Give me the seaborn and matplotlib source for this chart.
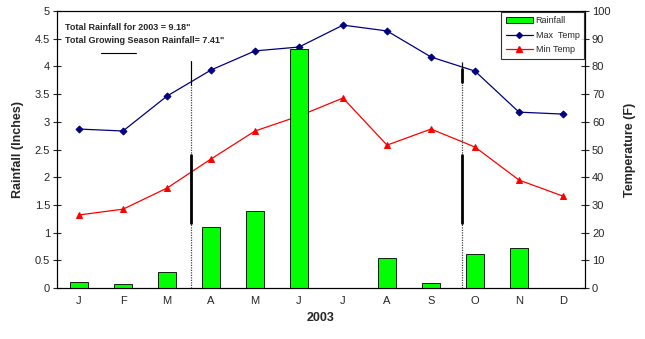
import numpy as np
import pandas as pd
import matplotlib
matplotlib.use('Agg')
import matplotlib.pyplot as plt
import seaborn as sns

meses = ['J', 'F', 'M', 'A', 'M', 'J', 'J', 'A', 'S', 'O', 'N', 'D']
lluvia = [0.11, 0.08, 0.29, 1.1, 1.39, 4.31, 0.0, 0.54, 0.1, 0.61, 0.72, 0.0]
temp_max = [57.4, 56.7, 69.3, 78.7, 85.6, 87.0, 94.9, 92.8, 83.4, 78.3, 63.5, 62.8]
temp_min = [26.4, 28.5, 36.1, 46.6, 56.7, 62.1, 68.6, 51.6, 57.4, 50.9, 39.0, 33.2]
# inicio y fin de la temporada de cultivo (posicion en el eje de meses)
temporada = [2.55, 8.7]

sns.set_style('white')
plt.rcParams['font.family'] = ['Liberation Sans', 'DejaVu Sans']

df = pd.DataFrame({'pos': np.arange(12), 'mes': meses, 'Lluvia': lluvia,
                   'Max': temp_max, 'Min': temp_min})

fig = plt.figure(figsize=(6.45, 3.39), dpi=100)
ax = fig.add_axes([0.0884, 0.150, 0.8186, 0.8176])
ax2 = ax.twinx()

sns.barplot(x='pos', y='Lluvia', data=df, ax=ax, color='#00FF00', width=0.41,
            edgecolor='black', linewidth=0.6, saturation=1, native_scale=True)
sns.lineplot(x='pos', y='Max', data=df, ax=ax2, color='#000080', marker='D',
             markersize=3.5, markeredgecolor='#000080', linewidth=0.9)
sns.lineplot(x='pos', y='Min', data=df, ax=ax2, color='#FF0000', marker='^',
             markersize=4.5, markeredgecolor='#FF0000', linewidth=0.9)

ax.set_xlim(-0.5, 11.5)
ax.set_ylim(0, 5)
ax2.set_ylim(0, 100)
ax.set_yticks(np.arange(0, 5.01, 0.5))
ax.set_yticklabels(['0', '0.5', '1', '1.5', '2', '2.5', '3', '3.5', '4', '4.5', '5'])
ax2.set_yticks(np.arange(0, 101, 10))

ax.set_xticks(np.arange(-0.5, 12, 1))
ax.set_xticklabels([])
ax.set_xticks(np.arange(12), minor=True)
ax.set_xticklabels(meses, minor=True)
ax.tick_params(axis='x', which='major', direction='out', length=4, width=0.8)
ax.tick_params(axis='x', which='minor', length=0, labelsize=8, pad=6)
ax.tick_params(axis='y', direction='inout', length=6, width=0.8, labelsize=8, pad=2)
ax2.tick_params(axis='y', direction='inout', length=6, width=0.8, labelsize=8, pad=2)

ax.set_xlabel('2003', fontsize=9, fontweight='bold', labelpad=4)
ax.set_ylabel('Rainfall (Inches)', fontsize=9, fontweight='bold', labelpad=8)
ax2.set_ylabel('Temperature (F)', fontsize=9, fontweight='bold', labelpad=10)

for s in list(ax.spines.values()) + list(ax2.spines.values()):
    s.set_color('black')
    s.set_linewidth(0.8)

# lineas de la temporada de cultivo
for x in temporada:
    ax.plot([x, x], [0, 4.1], color='#444444', linestyle=(0, (1, 1)), linewidth=0.9)
    ax.plot([x, x], [1.18, 2.4], color='black', linewidth=2.0)
ax.plot([temporada[0]] * 2, [3.66, 4.1], color='black', linewidth=0.8)
ax.plot([temporada[1]] * 2, [3.72, 3.95], color='black', linewidth=2.0)
ax.plot([temporada[1]] * 2, [3.95, 4.07], color='black', linewidth=0.8)

ax.text(0.015, 0.93, 'Total Rainfall for 2003 = 9.18"', transform=ax.transAxes,
        fontsize=6.5, fontweight='bold')
ax.text(0.015, 0.883, 'Total Growing Season Rainfall= 7.41"', transform=ax.transAxes,
        fontsize=6.5, fontweight='bold')
ax.plot([0.5, 1.3], [4.24, 4.24], color='black', linewidth=0.8)

ax.set_zorder(ax2.get_zorder() + 1)
ax.patch.set_visible(False)

handles = [plt.Rectangle((0, 0), 1, 1, facecolor='#00FF00', edgecolor='black', linewidth=0.6),
           plt.Line2D([], [], color='#000080', marker='D', markersize=3, linewidth=0.9),
           plt.Line2D([], [], color='#FF0000', marker='^', markersize=4, linewidth=0.9)]
leg = ax.legend(handles, ['Rainfall', 'Max  Temp', 'Min Temp'], loc='upper right',
                bbox_to_anchor=(1.0, 1.0), borderaxespad=0.1, fontsize=6.5, frameon=True,
                fancybox=False, borderpad=0.5, labelspacing=0.6, handlelength=3.0,
                handletextpad=0.3)
leg.get_frame().set_edgecolor('black')
leg.get_frame().set_linewidth(0.8)

fig.savefig('out.png', dpi=100)
